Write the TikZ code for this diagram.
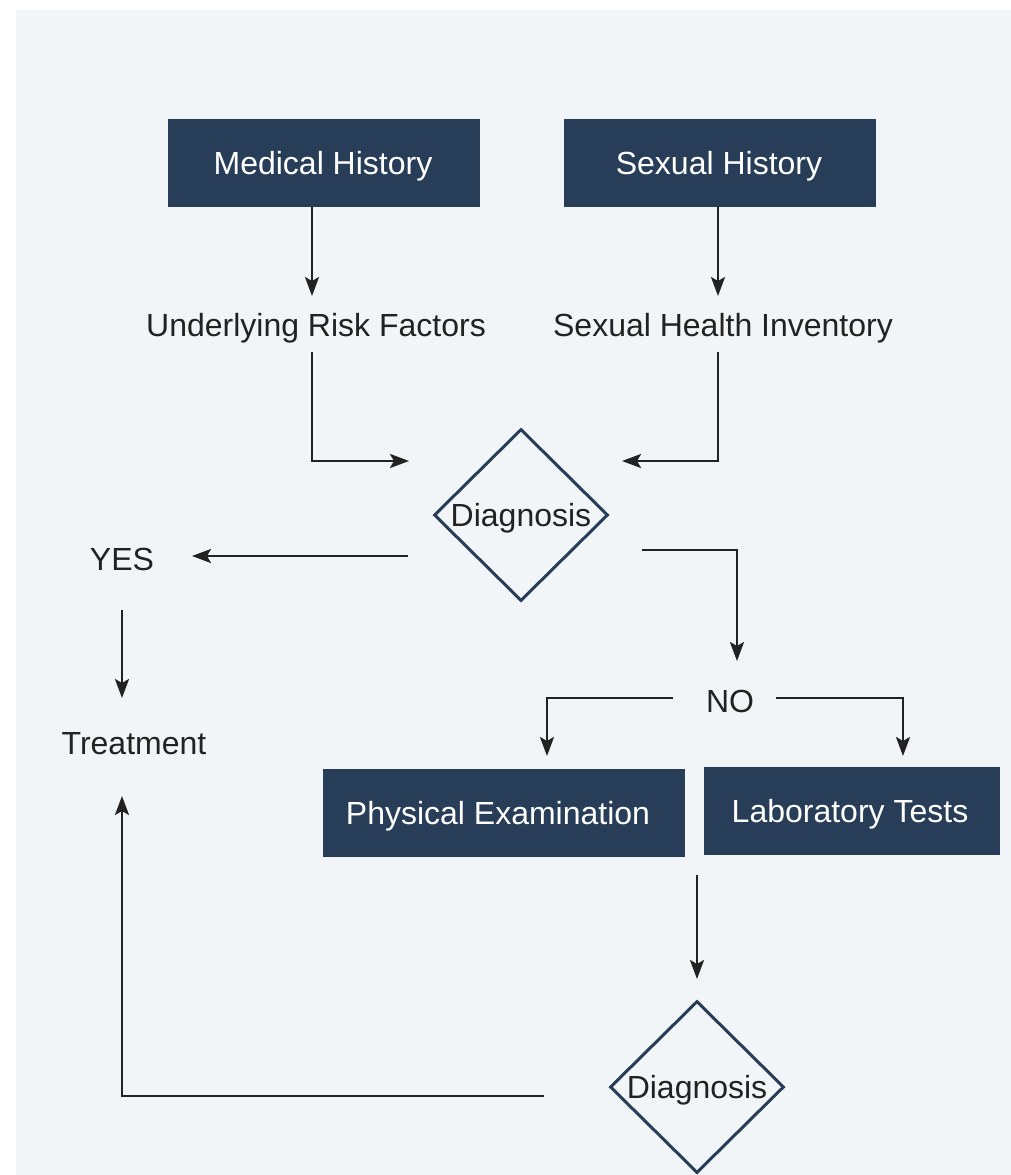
\documentclass[tikz,border=0pt]{standalone}
\usepackage{fontspec}
\setmainfont{Liberation Sans}
\usetikzlibrary{shapes.geometric,arrows.meta,calc}
\definecolor{bgc}{HTML}{F1F5F7}
\definecolor{boxc}{HTML}{283E58}
\definecolor{txt}{HTML}{222222}
\tikzset{
  fnt/.style={font=\fontsize{32}{38}\selectfont},
  box/.style={fill=boxc,text=white,minimum height=88pt,inner sep=0pt,fnt},
  lbl/.style={text=txt,inner sep=0pt,fnt},
  dia/.style={diamond,draw=boxc,line width=3pt,inner sep=0pt,minimum width=174pt,minimum height=172pt,text=txt,fnt},
  conn/.style={draw=txt,line width=2.5pt,-{Stealth[length=19pt,width=14pt,inset=4pt]}},
}
\begin{document}
\begin{tikzpicture}[x=1pt,y=-1pt]
\useasboundingbox (0,0) rectangle (1011,1175);
\fill[white] (0,0) rectangle (1011,1175);
\fill[bgc] (16,10) rectangle (1011,1175);

\node[box,minimum width=312pt] (mh) at (324,163) {};
\node[text=white,inner sep=0pt,fnt] (mht) at (323,166) {Medical History};
\node[box,minimum width=312pt] (sh) at (720,163) {};
\node[text=white,inner sep=0pt,fnt] (sht) at (719,166) {Sexual History};
\node[lbl] (urf) at (316,328) {Underlying Risk Factors};
\node[lbl] (shi) at (723,328) {Sexual Health Inventory};
\node[dia] (d1) at (521,515) {};
\node[lbl] (d1t) at (521,518) {Diagnosis};
\node[lbl] (yes) at (122,559) {YES};
\node[lbl] (tr) at (134,744) {Treatment};
\node[lbl] (no) at (730,701) {NO};
\node[box,minimum width=362pt] (pe) at (504,813) {};
\node[text=white,inner sep=0pt,fnt] (pet) at (498,816) {Physical Examination};
\node[box,minimum width=296pt] (lt) at (852,811) {};
\node[text=white,inner sep=0pt,fnt] (ltt) at (850,814) {Laboratory Tests};
\node[dia] (d2) at (697,1087) {};
\node[lbl] (d2t) at (697,1090) {Diagnosis};

\coordinate (a1s) at (312,207);
\coordinate (a1e) at (312,296);
\coordinate (a2s) at (718,207);
\coordinate (a2e) at (718,296);
\coordinate (b1s) at (312,352);
\coordinate (b1m) at (312,461);
\coordinate (b1e) at (409,461);
\coordinate (b2s) at (718,352);
\coordinate (b2m) at (718,461);
\coordinate (b2e) at (622,461);
\coordinate (ys) at (408,556);
\coordinate (ye) at (192,556);
\coordinate (ts) at (122,610);
\coordinate (te) at (122,698);
\coordinate (ns) at (642,550);
\coordinate (nm) at (737,550);
\coordinate (ne) at (737,661);
\coordinate (ls) at (673,698);
\coordinate (lm) at (547,698);
\coordinate (le) at (547,756);
\coordinate (rs) at (776,698);
\coordinate (rm) at (903,698);
\coordinate (re) at (903,756);
\coordinate (ds) at (697,875);
\coordinate (de) at (697,979);
\coordinate (fs) at (544,1096);
\coordinate (fm) at (122,1096);
\coordinate (fe) at (122,796);

\draw[conn] (a1s) -- (a1e);
\draw[conn] (a2s) -- (a2e);
\draw[conn] (b1s) -- (b1m) -- (b1e);
\draw[conn] (b2s) -- (b2m) -- (b2e);
\draw[conn] (ys) -- (ye);
\draw[conn] (ts) -- (te);
\draw[conn] (ns) -- (nm) -- (ne);
\draw[conn] (ls) -- (lm) -- (le);
\draw[conn] (rs) -- (rm) -- (re);
\draw[conn] (ds) -- (de);
\draw[conn] (fs) -- (fm) -- (fe);
\end{tikzpicture}
\end{document}
